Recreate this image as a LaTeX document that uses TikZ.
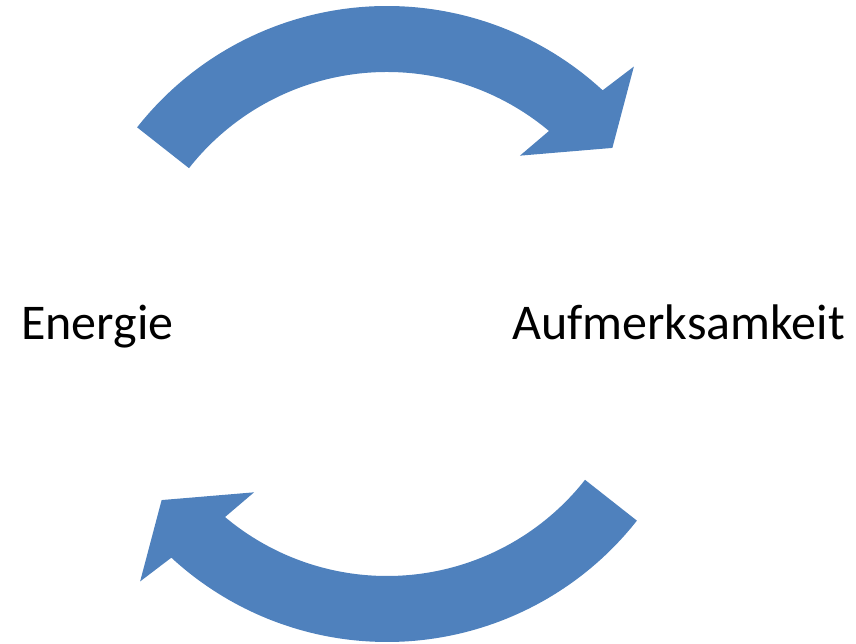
\documentclass[tikz,border=0pt]{standalone}
\usepackage{fontspec}
\setmainfont{Carlito}
\definecolor{arrowblue}{HTML}{4F81BD}
\tikzset{
  circarrow/.style={fill=arrowblue, draw=none},
  label text/.style={inner sep=0pt, font=\fontsize{50}{60}\selectfont, text=black}
}
\begin{document}
\begin{tikzpicture}[x=1pt,y=1pt]
\useasboundingbox (0,0) rectangle (856,644);
% top arrow
\begin{scope}[shift={(387,320)}]
\fill[circarrow] (141.8:318) arc[start angle=141.8, end angle=47.3, radius=318]
  -- (46.2:356.7) -- (38:286) -- (51.7:214.5) -- (50:252)
  arc[start angle=50, end angle=141.8, radius=252] -- cycle;
\end{scope}
% bottom arrow
\begin{scope}[shift={(387,320)}, rotate=180]
\fill[circarrow] (141.8:318) arc[start angle=141.8, end angle=47.3, radius=318]
  -- (46.2:356.7) -- (38:286) -- (51.7:214.5) -- (50:252)
  arc[start angle=50, end angle=141.8, radius=252] -- cycle;
\end{scope}
\node[label text, anchor=base west] (energie) at (21,304) {Energie};
\node[label text, anchor=base west] (aufm) at (512,304) {Aufmerksamkeit};
\end{tikzpicture}
\end{document}
